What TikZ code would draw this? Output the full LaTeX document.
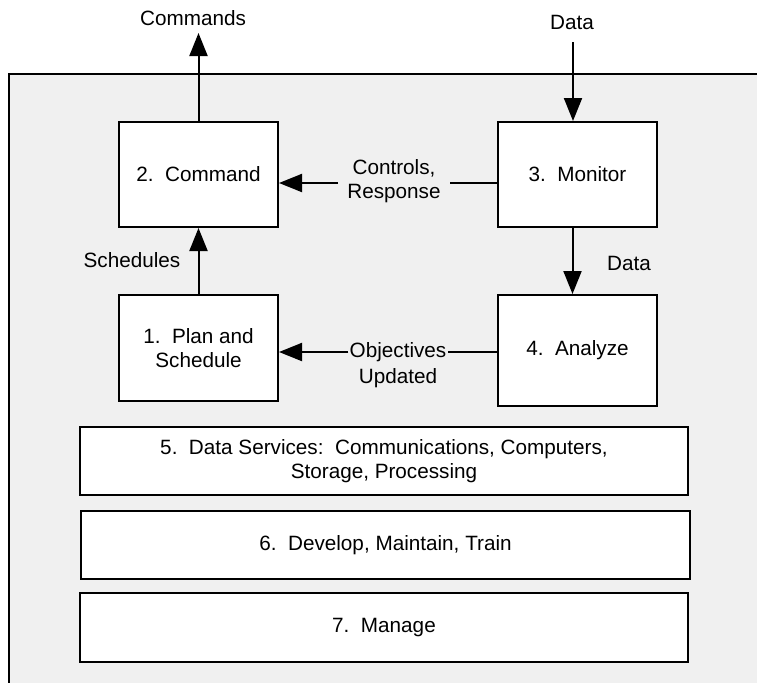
\documentclass[tikz,border=0pt]{standalone}
\usepackage{fontspec}
\setmainfont{Liberation Sans}
\usetikzlibrary{arrows.meta,positioning}

\begin{document}
\begin{tikzpicture}[x=1pt,y=-1pt,
    every node/.style={font=\fontsize{20.7}{24}\selectfont},
    box/.style={draw,line width=2pt,fill=white,align=center,inner sep=0pt},
    lbl/.style={align=center,inner sep=1pt},
    wire/.style={line width=2pt},
    flow/.style={line width=2pt,-{Triangle[length=23pt,width=18pt]}}]

    \useasboundingbox (0,0) rectangle (757,683);

    \fill[gray!12] (9,74) rectangle (757,683);
    \draw[wire] (757,74) -- (9,74) -- (9,683);

    \node[box,minimum width=159pt,minimum height=105pt] (cmd) at (198.5,174.5) {2.~~Command};
    \node[box,minimum width=159pt,minimum height=105pt] (mon) at (577.5,174.5) {3.~~Monitor};
    \node[box,minimum width=159pt,minimum height=106pt] (plan) at (198.5,348) {1.~~Plan and\\Schedule};
    \node[box,minimum width=159pt,minimum height=111pt] (ana) at (577.5,350.5) {4.~~Analyze};

    \node[box,minimum width=608pt,minimum height=68pt] (svc) at (384,461) {5.~~Data Services:~~Communications, Computers,\\Storage, Processing};
    \node[box,minimum width=609pt,minimum height=68pt] (dev) at (385.5,545) {6.~~Develop, Maintain, Train};
    \node[box,minimum width=608pt,minimum height=69pt] (mng) at (384,627.5) {7.~~Manage};

    \node[lbl] (commands) at (193,18) {Commands};
    \coordinate (cmdout) at (198.5,33);
    \node[lbl] (datain) at (572,22) {Data};
    \coordinate (datatop) at (573,42);
    \node[lbl,inner xsep=9pt] (ctrl) at (394,181) {Controls,\\Response};
    \node[lbl] (sched) at (132,260) {Schedules};
    \node[lbl] (dataout) at (629,263) {Data};
    \node[lbl] (obj) at (398,352) {Objectives};
    \node[lbl,below=4pt of obj] (upd) {Updated};

    \draw[flow] (cmd.north) -- (cmdout);
    \draw[flow] (datatop) -- (datatop |- mon.north);
    \draw[wire] ([yshift=-2pt]ctrl.east -| mon.west) -- ([yshift=-2pt]ctrl.east);
    \draw[flow] ([yshift=-2pt]ctrl.west) -- ([yshift=-2pt]ctrl.west -| cmd.east);
    \draw[flow] (plan.north) -- (cmd.south);
    \draw[flow] ([xshift=-5pt]mon.south) -- ([xshift=-5pt]ana.north);
    \draw[wire] (obj.east -| ana.west) -- (obj.east);
    \draw[flow] (obj.west) -- (obj.west -| plan.east);

\end{tikzpicture}
\end{document}
